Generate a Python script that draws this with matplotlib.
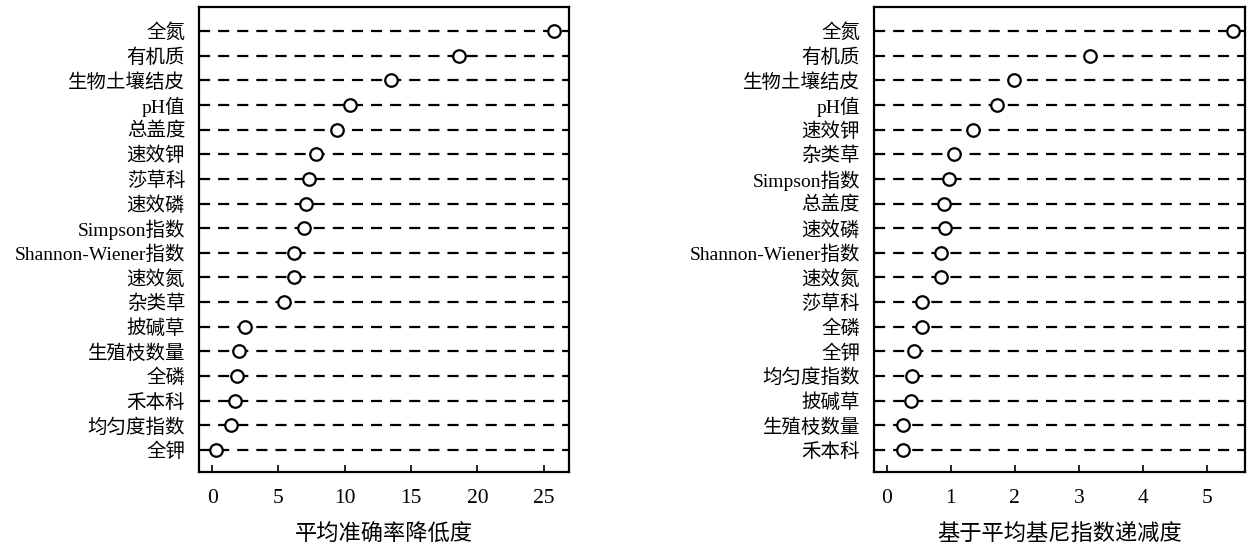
import matplotlib
matplotlib.use("Agg")
import matplotlib.pyplot as plt

plt.rcParams['font.family'] = ['Liberation Serif', 'Noto Sans CJK SC', 'DejaVu Sans']
plt.rcParams['axes.unicode_minus'] = False

# 平均准确率降低度
labels_acc = ["全氮", "有机质", "生物土壤结皮", "pH值", "总盖度", "速效钾", "莎草科", "速效磷",
              "Simpson指数", "Shannon-Wiener指数", "速效氮", "杂类草", "披碱草", "生殖枝数量",
              "全磷", "禾本科", "均匀度指数", "全钾"]
values_acc = [25.8, 18.6, 13.5, 10.4, 9.4, 7.8, 7.3, 7.1, 6.9, 6.2, 6.2, 5.4, 2.5, 2.0,
              1.9, 1.7, 1.4, 0.3]

# 基于平均基尼指数递减度
labels_gini = ["全氮", "有机质", "生物土壤结皮", "pH值", "速效钾", "杂类草", "Simpson指数", "总盖度",
               "速效磷", "Shannon-Wiener指数", "速效氮", "莎草科", "全磷", "全钾", "均匀度指数",
               "披碱草", "生殖枝数量", "禾本科"]
values_gini = [5.41, 3.17, 1.98, 1.72, 1.34, 1.05, 0.98, 0.89, 0.91, 0.84, 0.84, 0.55, 0.55,
               0.42, 0.39, 0.38, 0.25, 0.25]

xticks_acc = [0, 5, 10, 15, 20, 25]
xticks_gini = [0, 1, 2, 3, 4, 5]

fig = plt.figure(figsize=(12.52, 5.48), dpi=100)
ax1 = fig.add_axes([0.159, 0.1387, 0.2955, 0.8485])
ax2 = fig.add_axes([0.698, 0.1387, 0.2963, 0.8485])


def dot_plot(ax, labels, values, xlim, xticks, xlabel):
    n = len(labels)
    ys = [n - 1 - i for i in range(n)]
    for y in ys:
        ax.axhline(y, color='black', linestyle=(0, (5, 3.6)), linewidth=1.6, zorder=1)
    ax.plot(values, ys, linestyle='none', marker='o', markersize=9,
            markerfacecolor='white', markeredgecolor='black', markeredgewidth=1.6, zorder=3)
    ax.set_xlim(*xlim)
    ax.set_ylim(-0.89, n - 1 + 0.97)
    ax.set_yticks(ys)
    ax.set_yticklabels(labels, fontsize=14)
    ax.set_xticks(xticks)
    ax.set_xticklabels([str(t) for t in xticks], fontsize=15.5)
    ax.tick_params(axis='y', length=0, pad=10)
    ax.tick_params(axis='x', direction='in', length=5, width=1.2, pad=12)
    ax.set_xlabel(xlabel, fontsize=16, labelpad=12)
    for sp in ax.spines.values():
        sp.set_linewidth(1.6)


dot_plot(ax1, labels_acc, values_acc, (-0.98, 26.9), xticks_acc, "平均准确率降低度")
dot_plot(ax2, labels_gini, values_gini, (-0.2, 5.59), xticks_gini, "基于平均基尼指数递减度")

fig.savefig("out.png", dpi=100)
